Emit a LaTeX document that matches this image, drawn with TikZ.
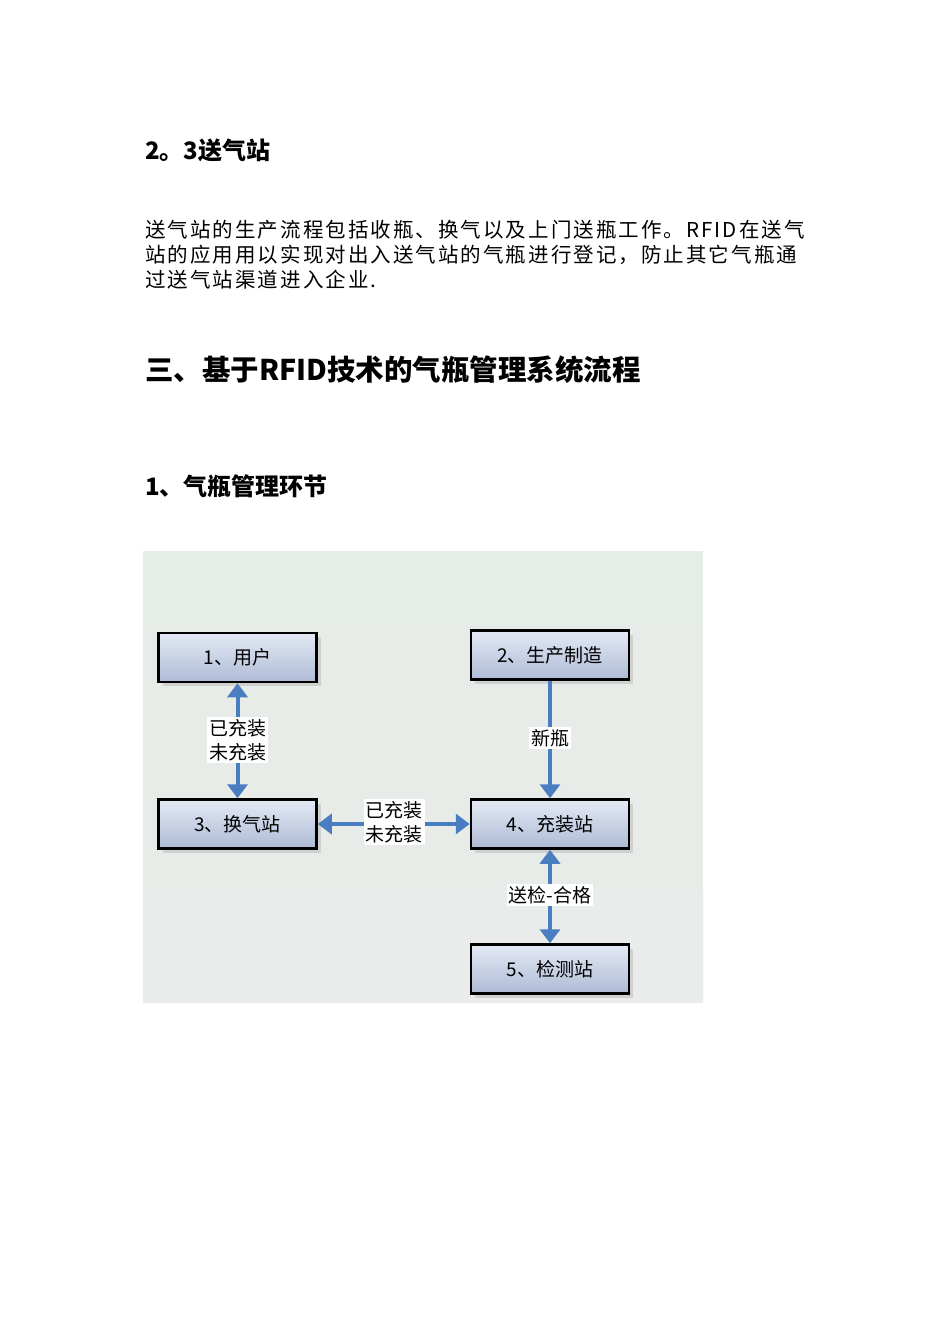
\documentclass[tikz,border=0pt]{standalone}
\usepackage{fontspec}
\setmainfont{Noto Sans CJK SC}
\newfontfamily\paraf[LetterSpace=10]{Noto Sans CJK SC}
\usetikzlibrary{arrows.meta,shadows}
\definecolor{arr}{HTML}{4A7EC0}
\definecolor{bgA}{HTML}{E6ECE8}
\definecolor{bgB}{HTML}{E9ECEA}
\definecolor{boxT}{HTML}{E4E9F4}
\definecolor{boxB}{HTML}{AEBBD6}
\tikzset{
 box/.style={draw=black,line width=2.5pt,minimum width=158pt,minimum height=49pt,inner sep=0pt,
   top color=boxT,bottom color=boxB,font=\fontsize{19}{19}\selectfont,
   drop shadow={shadow xshift=4pt,shadow yshift=-4pt,fill=black!25,opacity=0.6}},
 lab/.style={fill=white,inner sep=2pt,font=\fontsize{19}{24}\selectfont,align=center},
 ar/.style={arr,line width=4pt,-{Triangle[length=14pt,width=20pt]}},
 dar/.style={arr,line width=4pt,{Triangle[length=14pt,width=20pt]}-{Triangle[length=14pt,width=20pt]}},
 txt/.style={anchor=west,inner sep=0pt,font=\paraf\fontsize{20.5}{20.5}\selectfont}
}
\begin{document}
\begin{tikzpicture}[x=1pt,y=-1pt]
\useasboundingbox[fill=white] (0,0) rectangle (950,1344);
\node[txt,font=\fontsize{24}{24}\selectfont\bfseries] (h1) at (145,150) {2。3送气站};
\node[txt] (p1) at (145,230) {送气站的生产流程包括收瓶、换气以及上门送瓶工作。RFID在送气};
\node[txt] (p2) at (145,255) {站的应用用以实现对出入送气站的气瓶进行登记，防止其它气瓶通};
\node[txt] (p3) at (145,280) {过送气站渠道进入企业.};
\node[txt,font=\fontsize{28.5}{28.5}\selectfont\bfseries] (h2) at (145,370) {三、基于RFID技术的气瓶管理系统流程};
\node[txt,font=\fontsize{24}{24}\selectfont\bfseries] (h3) at (145,486) {1、气瓶管理环节};
\fill[top color=bgA,bottom color=bgB] (143,551) rectangle (703,1002);
\node[box] (b1) at (237.5,657.5) {1、用户};
\node[box] (b2) at (550,655) {2、生产制造};
\node[box] (b3) at (237.5,824) {3、换气站};
\node[box] (b4) at (550,824) {4、充装站};
\node[box] (b5) at (550,969) {5、检测站};
\draw[dar] (b1.south) -- (b3.north);
\node[lab] (l1) at (237.5,740) {已充装\\未充装};
\draw[ar] (b2.south) -- (b4.north);
\node[lab] (l2) at (550,738) {新瓶};
\draw[dar] (b3.east) -- (b4.west);
\node[lab] (l3) at (394,822) {已充装\\未充装};
\draw[dar] (b4.south) -- (b5.north);
\node[lab] (l4) at (550,895) {送检-合格};
\end{tikzpicture}
\end{document}
